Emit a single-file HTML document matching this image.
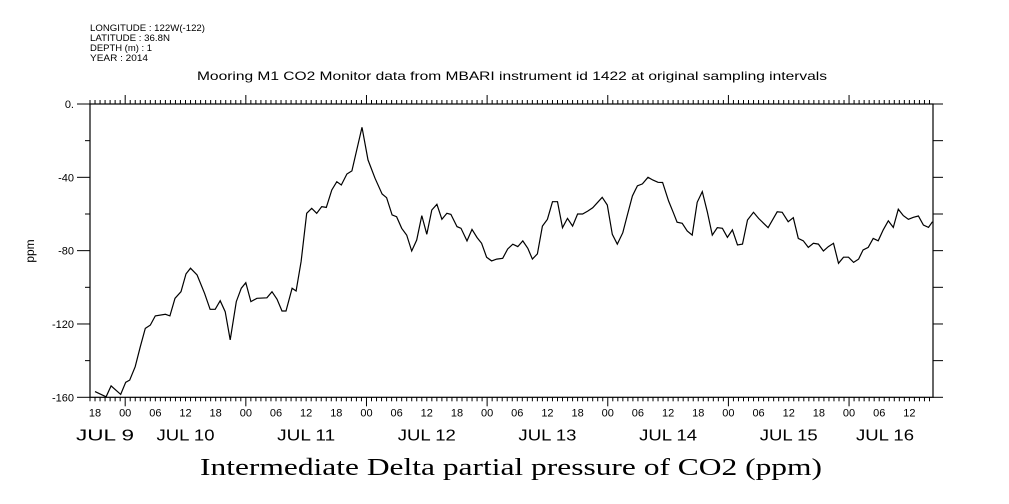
<!DOCTYPE html>
<html><head><meta charset="utf-8"><style>
body{margin:0;background:#fff;}
svg{display:block;font-family:"Liberation Sans",sans-serif;}
</style></head><body>
<svg id="chart" width="1009" height="504" viewBox="0 0 1009 504">
<g font-size="9" fill="#000">
<text x="90" y="31" textLength="115" lengthAdjust="spacingAndGlyphs">LONGITUDE : 122W(-122)</text>
<text x="90" y="41" textLength="80" lengthAdjust="spacingAndGlyphs">LATITUDE : 36.8N</text>
<text x="90" y="51" textLength="62" lengthAdjust="spacingAndGlyphs">DEPTH (m) : 1</text>
<text x="90" y="61" textLength="58" lengthAdjust="spacingAndGlyphs">YEAR : 2014</text>
</g>
<text x="197" y="80" font-size="12" textLength="630" lengthAdjust="spacingAndGlyphs">Mooring M1 CO2 Monitor data from MBARI instrument id 1422 at original sampling intervals</text>
<text x="34" y="251" font-size="12" text-anchor="middle" transform="rotate(-90 34 251)">ppm</text>
<text x="200" y="475" font-size="24" textLength="622" lengthAdjust="spacingAndGlyphs" font-family="Liberation Serif, serif">Intermediate Delta partial pressure of CO2 (ppm)</text>
<g id="axes"></g>
<path id="series" fill="none" stroke="#000" stroke-width="1.2"/>
</svg>
<script>
// hours since JUL 9 00:00 (2014)
const times=[18.0,20.2,21.2,23.1,24.1,24.9,26.0,27.0,28.0,29.0,30.0,32.0,32.9,33.9,35.1,36.1,37.0,38.3,39.8,40.9,41.9,42.9,43.9,44.9,46.1,47.1,48.0,49.0,50.2,52.2,53.2,54.2,55.2,56.0,57.2,58.0,59.0,60.1,61.1,62.1,63.1,64.0,65.1,66.1,67.0,68.1,69.1,71.1,72.3,73.7,75.1,76.0,77.1,78.0,79.0,80.0,81.0,82.0,83.0,84.0,85.0,86.0,87.0,88.0,88.8,90.0,90.8,92.0,93.0,94.0,94.9,95.9,96.9,97.9,99.1,100.1,101.1,102.1,103.1,104.1,105.0,106.0,107.0,108.0,109.0,110.0,111.0,112.0,113.0,114.0,115.0,116.0,117.0,118.0,118.9,119.9,120.9,121.9,123.0,123.9,124.9,125.9,126.9,128.0,129.0,130.0,130.9,132.1,133.1,133.8,134.8,135.8,136.8,137.8,138.8,139.8,140.8,141.8,142.8,143.8,144.8,145.8,146.8,147.8,149.0,150.0,151.0,151.9,152.9,153.7,154.7,155.9,156.9,157.9,158.9,159.9,160.9,161.9,162.9,163.9,164.9,165.9,166.9,167.9,168.9,169.9,170.8,171.8,172.8,173.8,174.8,175.8,176.8,177.8,178.8,179.8,180.8,181.8,182.8,183.8,184.6];
const values=[-156.9,-159.7,-153.8,-158.4,-151.8,-150.6,-143.3,-132.4,-122.4,-120.6,-115.6,-114.7,-115.6,-106.0,-102.4,-92.7,-89.6,-93.3,-103.3,-112.0,-112.0,-107.3,-113.3,-128.7,-107.8,-100.5,-97.5,-107.8,-106.0,-105.7,-102.4,-106.5,-112.9,-112.9,-100.5,-102.0,-86.0,-59.6,-56.9,-59.6,-56.0,-56.4,-46.9,-42.4,-44.2,-38.2,-36.5,-12.7,-30.5,-40.5,-49.1,-51.1,-60.5,-61.5,-67.8,-71.5,-80.2,-74.2,-60.9,-71.1,-57.8,-54.7,-62.9,-59.6,-60.2,-66.9,-67.8,-74.7,-68.4,-72.9,-76.0,-83.6,-85.6,-84.6,-84.2,-79.1,-76.5,-77.8,-74.7,-78.7,-84.6,-81.8,-66.6,-62.9,-53.3,-53.3,-67.5,-62.4,-66.6,-60.0,-60.0,-58.4,-56.6,-53.6,-50.9,-55.1,-71.1,-76.4,-70.2,-60.5,-50.2,-44.6,-43.6,-40.0,-41.5,-42.7,-42.8,-52.9,-59.6,-64.5,-65.1,-69.3,-71.5,-53.6,-47.8,-58.8,-71.5,-67.5,-67.8,-72.7,-68.7,-76.9,-76.4,-63.3,-59.1,-62.4,-65.1,-67.5,-62.7,-58.8,-59.1,-64.2,-62.0,-73.3,-74.6,-78.2,-76.0,-76.4,-80.2,-77.8,-76.0,-86.9,-83.6,-83.6,-86.4,-84.6,-79.6,-78.2,-73.3,-74.6,-68.7,-63.7,-67.3,-57.4,-60.9,-62.9,-61.8,-61.1,-66.0,-67.3,-64.2];
const yTickValues=[0,-20,-40,-60,-80,-100,-120,-140,-160];
const yTickLabels=["0.","","-40","","-80","","-120","","-160"];
const hourLabels=["00","06","12","18"];
const dayLabels=["JUL  9","JUL 10","JUL 11","JUL 12","JUL 13","JUL 14","JUL 15","JUL 16"];
const X0=90,X1=933,Y0=104,Y1=397.3;
const T0=17,T1=184.7;
const xs=t=>X0+(t-T0)/(T1-T0)*(X1-X0);
const ys=v=>Y0+(0-v)/160*(Y1-Y0);
const NS="http://www.w3.org/2000/svg";
const ax=document.getElementById('axes');
function mk(tag,at,txt){const e=document.createElementNS(NS,tag);for(const k in at)e.setAttribute(k,at[k]);if(txt!==undefined)e.textContent=txt;ax.appendChild(e);return e;}
let f=mk('rect',{x:X0,y:Y0,width:X1-X0,height:Y1-Y0,fill:'none',stroke:'#000','stroke-width':1.2});


for(let h=Math.ceil(T0);h<=T1;h++){
  const x=xs(h);const maj=h%24===0;const six=h%6===0;
  let t1=mk('line',{x1:x,x2:x,y1:Y0,y2:Y0-(maj?9:4),stroke:'#000'});
  
  
  let t2=mk('line',{x1:x,x2:x,y1:Y1,y2:Y1+(maj?9:4),stroke:'#000'});
  
  
  if(six){
    let l=mk('text',{x:x,y:Y1+19,'font-size':11,'text-anchor':'middle'},hourLabels[(h%24)/6]);
    
    
  }
}
for(let d=0;d<dayLabels.length;d++){
  let c=xs(d*24+12);
  if(d===0)c=105;
  if(d===dayLabels.length-1)c=Math.min(c,885);
  let l=mk('text',{x:c-29,y:Y1+43,'font-size':16,'xml:space':'preserve',textLength:58,lengthAdjust:'spacingAndGlyphs'},dayLabels[d]);
  
  
}
yTickValues.forEach((v,i)=>{
  const y=ys(v);const maj=yTickLabels[i]!=="";
  let a=mk('line',{x1:X0-(maj?13:5),x2:X0,y1:y,y2:y,stroke:'#000'});
  
  
  let b=mk('line',{x1:X1,x2:X1+10,y1:y,y2:y,stroke:'#000'});
  
  
  if(maj){
    let l=mk('text',{x:X0-16,y:y+4,'font-size':11,'text-anchor':'end'},yTickLabels[i]);
    
    
  }
});
document.getElementById('series').setAttribute('d',times.map((t,i)=>(i?'L':'M')+xs(t).toFixed(1)+','+ys(values[i]).toFixed(1)).join(''));
</script>
</body></html>
